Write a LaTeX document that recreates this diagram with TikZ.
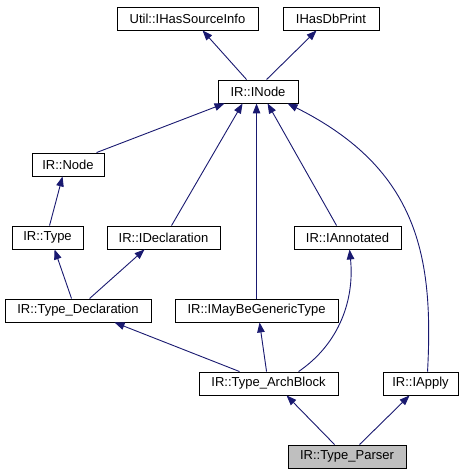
\documentclass[tikz,border=0pt]{standalone}
\usepackage{fontspec}
\setmainfont{Liberation Sans}
\usetikzlibrary{arrows.meta}
\definecolor{edgeblue}{RGB}{25,25,112}
\definecolor{boxgray}{RGB}{191,191,191}
\begin{document}
\begin{tikzpicture}[x=1pt,y=-1pt,
  cls/.style={draw=black,line width=0.9pt,fill=white,inner sep=0pt,minimum height=23pt,
    font=\fontsize{13}{15}\selectfont},
  cur/.style={cls,fill=boxgray},
  inh/.style={draw=edgeblue,line width=0.9pt,-{Triangle[length=10pt,width=7.5pt,fill=edgeblue]}}]
\useasboundingbox (0,0) rectangle (471,476);
\node[cls,minimum width=141pt] (util) at (187.5,18.5) {Util::IHasSourceInfo};
\node[cls,minimum width=96pt] (dbprint) at (331,18.5) {IHasDbPrint};
\node[cls,minimum width=80pt] (inode) at (258,91.5) {IR::INode};
\node[cls,minimum width=72pt] (node) at (68,164.5) {IR::Node};
\node[cls,minimum width=71pt] (type) at (47.5,237.5) {IR::Type};
\node[cls,minimum width=113pt] (idecl) at (163.5,237.5) {IR::IDeclaration};
\node[cls,minimum width=107pt] (iannot) at (347.5,237.5) {IR::IAnnotated};
\node[cls,minimum width=146pt] (tdecl) at (78,310.5) {IR::Type\_Declaration};
\node[cls,minimum width=163pt] (imay) at (256.5,310.5) {IR::IMayBeGenericType};
\node[cls,minimum width=139pt] (arch) at (268.5,383.5) {IR::Type\_ArchBlock};
\node[cls,minimum width=75pt] (iapply) at (420.5,383.5) {IR::IApply};
\node[cur,minimum width=118pt] (parser) at (347,456.5) {IR::Type\_Parser};

\draw[inh] ([xshift=29pt]inode.north west) -- ([xshift=86pt]util.south west);
\draw[inh] ([xshift=49pt]inode.north west) -- ([xshift=34pt]dbprint.south west);
\draw[inh] ([xshift=65pt]node.north west) -- ([xshift=7pt]inode.south west);
\draw[inh] ([xshift=65pt]idecl.north west) -- ([xshift=25pt]inode.south west);
\draw[inh] ([xshift=82pt]imay.north west) -- ([xshift=39pt]inode.south west);
\draw[inh] ([xshift=43pt]iannot.north west) -- ([xshift=50pt]inode.south west);
\draw[inh] ([xshift=45pt]iapply.north west) .. controls +(6,-113) and +(132,66) .. ([xshift=70pt]inode.south west);
\draw[inh] ([xshift=38pt]type.north west) -- ([xshift=31pt]node.south west);
\draw[inh] ([xshift=67pt]tdecl.north west) -- ([xshift=43pt]type.south west);
\draw[inh] ([xshift=85pt]tdecl.north west) -- ([xshift=38pt]idecl.south west);
\draw[inh] ([xshift=41pt]arch.north west) -- ([xshift=110pt]tdecl.south west);
\draw[inh] ([xshift=68pt]arch.north west) -- ([xshift=85pt]imay.south west);
\draw[inh] ([xshift=100pt]arch.north west) .. controls +(41,-28) and +(5,50) .. ([xshift=56pt]iannot.south west);
\draw[inh] ([xshift=47pt]parser.north west) -- ([xshift=88pt]arch.south west);
\draw[inh] ([xshift=72pt]parser.north west) -- ([xshift=27pt]iapply.south west);
\end{tikzpicture}
\end{document}
